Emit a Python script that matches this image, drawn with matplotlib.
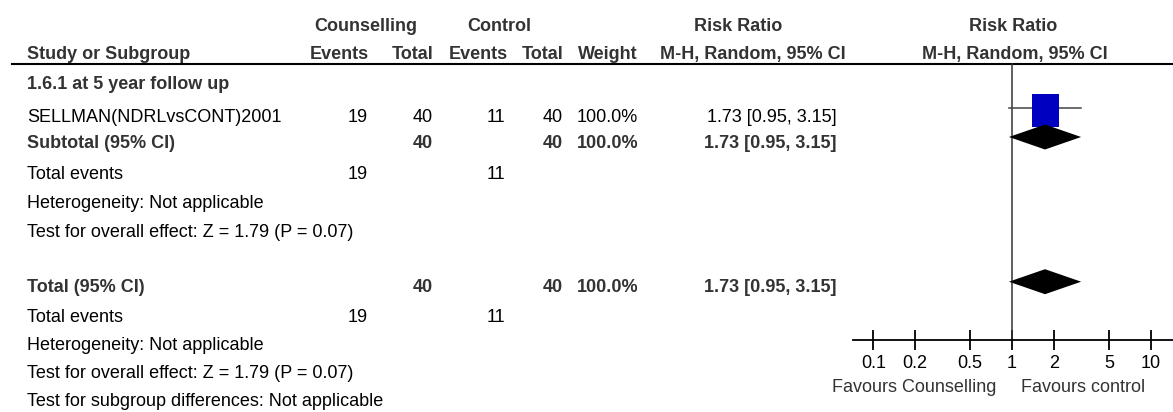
import matplotlib
matplotlib.use("Agg")
import matplotlib.pyplot as plt
from matplotlib.patches import Rectangle, Polygon

plt.rcParams['font.family'] = ['Liberation Sans', 'DejaVu Sans']

# data
subgroup = "1.6.1 at 5 year follow up"
study = "SELLMAN(NDRLvsCONT)2001"
ev_couns, tot_couns = 19, 40
ev_ctrl, tot_ctrl = 11, 40
weight = 100.0
rr, rr_lo, rr_hi = 1.73, 0.95, 3.15
z_stat, p_val = 1.79, 0.07
tick_vals = [0.1, 0.2, 0.5, 1, 2, 5, 10]
tick_labels = ["0.1", "0.2", "0.5", "1", "2", "5", "10"]

W, H = 1173, 412
FS = 13
BOLD_C = '#333333'

fig = plt.figure(figsize=(W / 100, H / 100), dpi=100)
ax = fig.add_axes([0, 0, 1, 1])
ax.set_xlim(0, W)
ax.set_ylim(H, 0)
ax.axis('off')

# forest panel: log axis, 1 at x=1012 px, one decade = 138.7 px
x0, x1, px1, dec = 853, W, 1012, 138.7
fax = fig.add_axes([x0 / W, 0, (x1 - x0) / W, 1])
fax.set_xscale('log')
fax.set_xlim(10 ** ((x0 - px1) / dec), 10 ** ((x1 - px1) / dec))
fax.set_ylim(H, 0)
fax.patch.set_visible(False)
for s in ['top', 'left', 'right']:
    fax.spines[s].set_visible(False)
fax.spines['bottom'].set_position(('data', 340))
fax.spines['bottom'].set_linewidth(1.3)
fax.set_yticks([])
fax.set_xticks(tick_vals)
fax.set_xticklabels(tick_labels)
fax.minorticks_off()
fax.tick_params(axis='x', direction='inout', length=15, width=1.3,
                labelsize=FS, pad=3, colors='black')


def txt(x, y, s, ha='left', bold=False, color=None):
    ax.text(x, y, s, ha=ha, va='baseline', fontsize=FS,
            fontweight='bold' if bold else 'normal',
            color=color or (BOLD_C if bold else 'black'))


# column right edges
c_ev, c_tot, k_ev, k_tot, c_w, c_ci = 368, 433, 505, 563, 638, 837
left = 27

# headers
txt(366, 30.5, "Counselling", ha='center', bold=True)
txt(499, 30.5, "Control", ha='center', bold=True)
txt(738, 30.5, "Risk Ratio", ha='center', bold=True)
txt(1013, 30.5, "Risk Ratio", ha='center', bold=True)
txt(left, 59.3, "Study or Subgroup", bold=True)
txt(c_ev + 1, 59.3, "Events", ha='right', bold=True)
txt(c_tot + 1, 59.3, "Total", ha='right', bold=True)
txt(k_ev + 3, 59.3, "Events", ha='right', bold=True)
txt(k_tot + 1, 59.3, "Total", ha='right', bold=True)
txt(c_w, 59.3, "Weight", ha='right', bold=True)
txt(753, 59.3, "M-H, Random, 95% CI", ha='center', bold=True)
txt(1015, 59.3, "M-H, Random, 95% CI", ha='center', bold=True)
ax.plot([12, W], [63.5, 63.5], color='black', lw=1.5)

ci_str = f"{rr:.2f} [{rr_lo:.2f}, {rr_hi:.2f}]"
w_str = f"{weight:.1f}%"
test_str = f"Test for overall effect: Z = {z_stat:.2f} (P = {p_val:.2f})"

txt(left, 89.3, subgroup, bold=True)

# study row
y = 122.3
txt(left, y, study)
txt(c_ev, y, str(ev_couns), ha='right')
txt(c_tot, y, str(tot_couns), ha='right')
txt(k_ev, y, str(ev_ctrl), ha='right')
txt(k_tot, y, str(tot_ctrl), ha='right')
txt(c_w, y, w_str, ha='right')
txt(c_ci, y, ci_str, ha='right')

# subtotal row
y = 148.3
txt(left, y, "Subtotal (95% CI)", bold=True)
txt(c_tot, y, str(tot_couns), ha='right', bold=True)
txt(k_tot, y, str(tot_ctrl), ha='right', bold=True)
txt(c_w, y, w_str, ha='right', bold=True)
txt(c_ci, y, ci_str, ha='right', bold=True)

txt(left, 179.3, "Total events")
txt(c_ev, 179.3, str(ev_couns), ha='right')
txt(k_ev, 179.3, str(ev_ctrl), ha='right')
txt(left, 208.3, "Heterogeneity: Not applicable")
txt(left, 237.3, test_str)

# total row
y = 291.7
txt(left, y, "Total (95% CI)", bold=True)
txt(c_tot, y, str(tot_couns), ha='right', bold=True)
txt(k_tot, y, str(tot_ctrl), ha='right', bold=True)
txt(c_w, y, w_str, ha='right', bold=True)
txt(c_ci, y, ci_str, ha='right', bold=True)

txt(left, 321.7, "Total events")
txt(c_ev, 321.7, str(ev_couns), ha='right')
txt(k_ev, 321.7, str(ev_ctrl), ha='right')
txt(left, 350, "Heterogeneity: Not applicable")
txt(left, 378.3, test_str)
txt(left, 406, "Test for subgroup differences: Not applicable")

# forest marks
fax.plot([1, 1], [64, 340], color='#333333', lw=1.1)
fax.plot([rr_lo, rr_hi], [108, 108], color='#444444', lw=1.1)
half = 10 ** (13.5 / dec)
fax.add_patch(Rectangle((rr / half, 94), rr * half - rr / half, 33,
                        facecolor='#0000c0', edgecolor='none', zorder=3))
for yc in (137, 281.7):
    fax.add_patch(Polygon([(rr_lo, yc), (rr, yc - 12.5), (rr_hi, yc), (rr, yc + 12.5)],
                          closed=True, facecolor='black', edgecolor='none', zorder=4))

fax.text(0.767, 391.7, "Favours Counselling", ha='right', va='baseline',
         fontsize=FS, color=BOLD_C)
fax.text(1.16, 391.7, "Favours control", ha='left', va='baseline',
         fontsize=FS, color=BOLD_C)

fig.savefig("out.png", dpi=100)
